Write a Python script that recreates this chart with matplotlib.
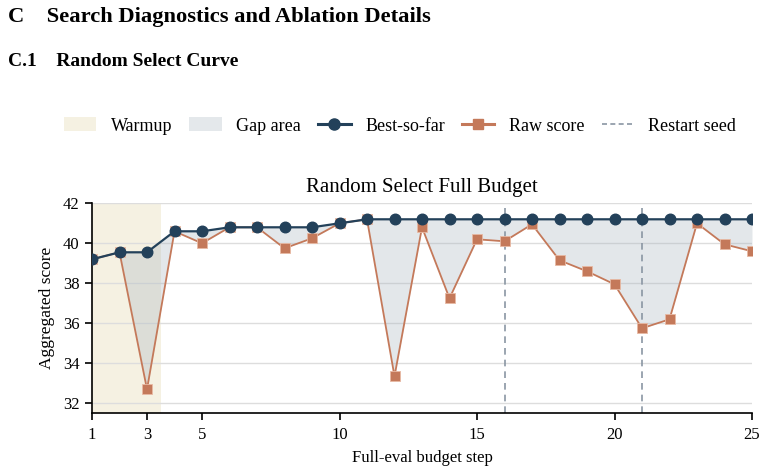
import matplotlib
matplotlib.use("Agg")
import matplotlib.pyplot as plt
import numpy as np
from matplotlib.patches import Patch
from matplotlib.lines import Line2D

plt.rcParams['font.family'] = ['Liberation Serif', 'DejaVu Serif']

steps = list(range(1, 26))
raw_score = [39.2, 39.55, 32.7, 40.6, 40.0, 40.8, 40.8, 39.75, 40.25, 41.0, 41.2,
             33.35, 40.8, 37.25, 40.2, 40.1, 40.95, 39.15, 38.6, 37.95, 35.75,
             36.2, 41.0, 39.95, 39.6]
best_so_far = list(np.maximum.accumulate(raw_score))
restart_steps = [16, 21]
warmup_range = (0.5, 3.5)
x_ticks = [1, 3, 5, 10, 15, 20, 25]
y_ticks = [32, 34, 36, 38, 40, 42]

c_best = '#23415a'
c_raw = '#c4795a'
c_gap = '#aab5c0'
c_warm = '#f5f1e2'
c_restart = '#8a96a3'

fig = plt.figure(figsize=(7.66, 4.72), dpi=100)
fig.text(8/766, 1 - 17/472, 'C    Search Diagnostics and Ablation Details',
         fontsize=16.2, fontweight='bold', va='center', ha='left')
fig.text(8/766, 1 - 62/472, 'C.1    Random Select Curve',
         fontsize=14, fontweight='bold', va='center', ha='left')

ax = fig.add_axes([92/766, 1 - 413.3/472, 660/766, 210/472])
ax.axvspan(*warmup_range, color=c_warm, zorder=0, lw=0)
ax.fill_between(steps, raw_score, best_so_far, color=c_gap, alpha=0.32, lw=0, zorder=1)
for s in restart_steps:
    ax.axvline(s, color=c_restart, ls=(0, (4, 3)), lw=1.2, zorder=2)
ax.plot(steps, raw_score, color=c_raw, lw=1.3, marker='s', ms=7.2,
        markeredgecolor='#e8b9a3', markeredgewidth=0.6, zorder=3)
ax.plot(steps, best_so_far, color=c_best, lw=1.6, marker='o', ms=7.6, zorder=4)

ax.set_xlim(1, 25)
ax.set_ylim(31.5, 42)
ax.set_xticks(x_ticks)
ax.set_yticks(y_ticks)
ax.yaxis.grid(True, color='#dddddd', lw=1)
ax.set_axisbelow(True)
for sp in ['top', 'right']:
    ax.spines[sp].set_visible(False)
ax.spines['left'].set_linewidth(1.2)
ax.spines['bottom'].set_linewidth(1.2)
ax.tick_params(axis='both', labelsize=12, length=5, width=1.2, direction='out', pad=4)
ax.tick_params(axis='x', pad=5)
ax.set_xlabel('Full-eval budget step', fontsize=12, labelpad=5)
ax.set_ylabel('Aggregated score', fontsize=12.5, labelpad=6)
ax.set_title('Random Select Full Budget', fontsize=15, pad=8)

handles = [
    Patch(facecolor=c_warm, edgecolor='none', label='Warmup'),
    Patch(facecolor='#e4e8eb', edgecolor='none', label='Gap area'),
    Line2D([0], [0], color=c_best, lw=2.2, marker='o', ms=8, label='Best-so-far'),
    Line2D([0], [0], color=c_raw, lw=2.2, marker='s', ms=7, label='Raw score'),
    Line2D([0], [0], color=c_restart, lw=1.2, ls=(0, (3, 2)), label='Restart seed'),
]
fig.legend(handles=handles, loc='center', bbox_to_anchor=(400/766, 1 - 126/472),
           ncol=5, frameon=False, fontsize=13, handlelength=1.8, columnspacing=0.95,
           handletextpad=0.8, handleheight=0.8)

fig.savefig('out.png', dpi=100)
